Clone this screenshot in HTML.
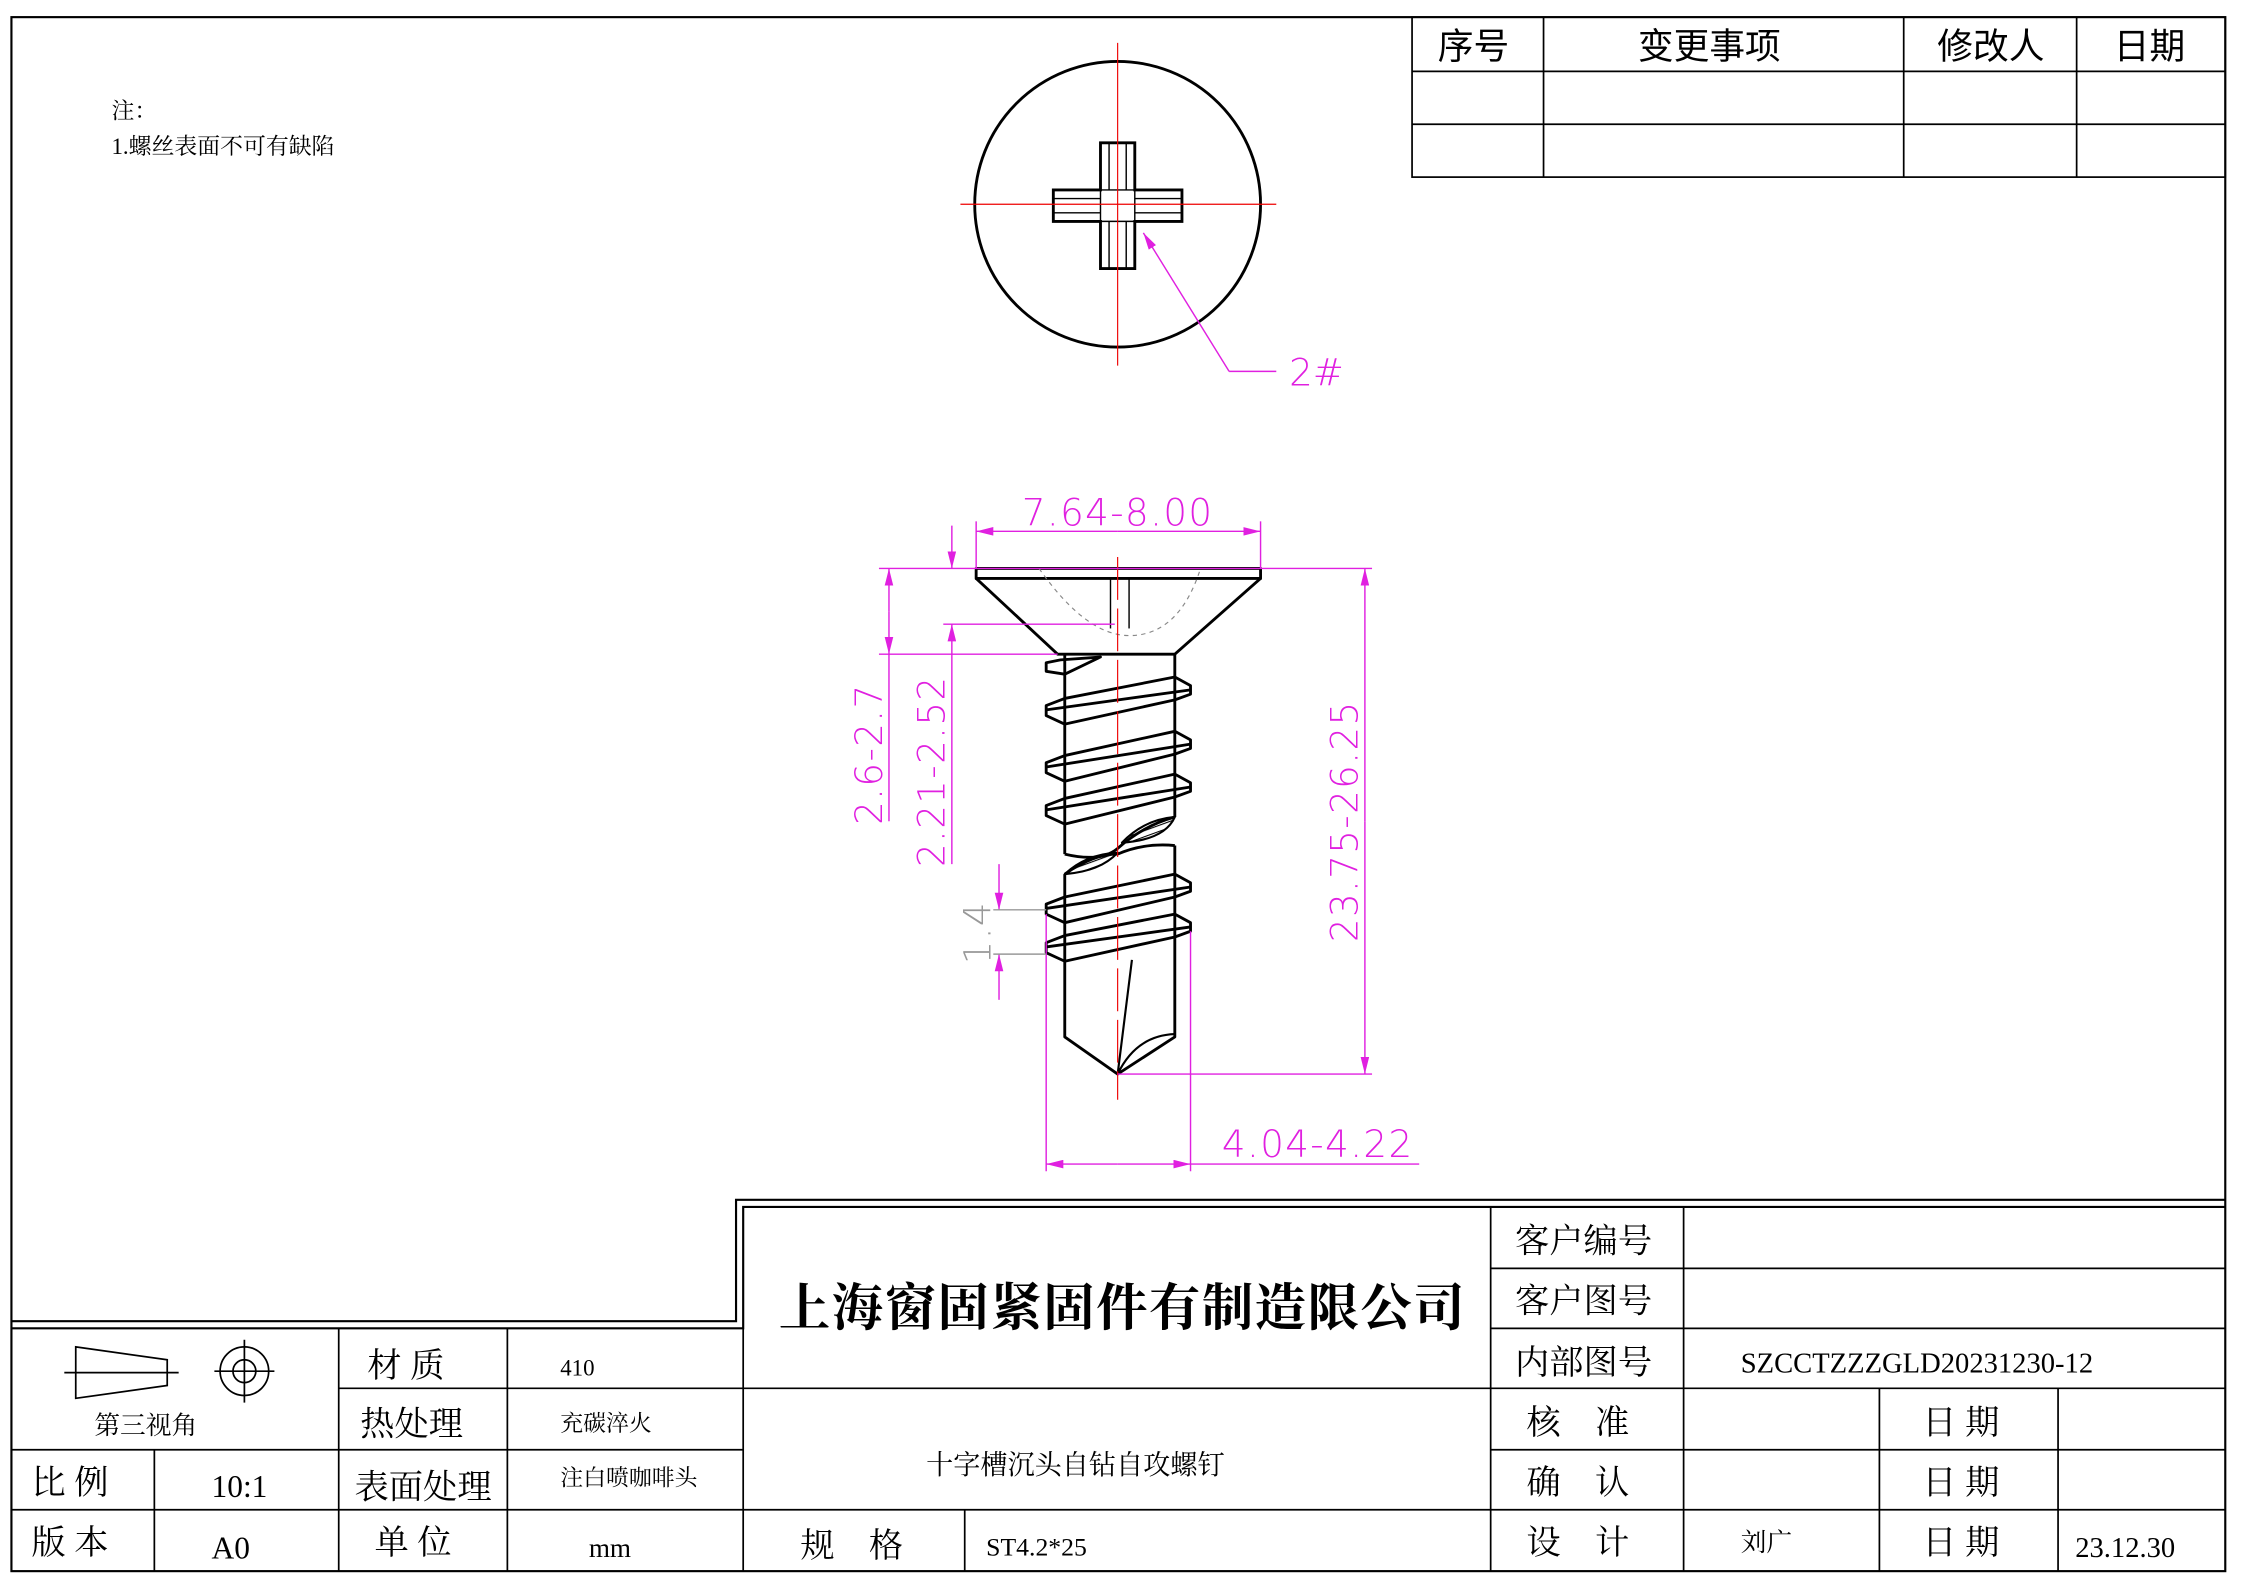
<!DOCTYPE html>
<html><head><meta charset="utf-8"><style>
html,body{margin:0;padding:0;background:#fff;}
svg{display:block;}
.s{font-family:"Liberation Serif","Noto Serif CJK SC",serif;fill:#000;}
.m{font-family:"DejaVu Sans","Liberation Sans",sans-serif;fill:#e020e0;font-weight:200;}
</style></head><body>
<svg width="2241" height="1584" viewBox="0 0 1568 1109" preserveAspectRatio="none" xmlns="http://www.w3.org/2000/svg">
<defs>
<pattern id="h" width="4" height="4" patternUnits="userSpaceOnUse" patternTransform="rotate(70)"><line x1="0" y1="0" x2="0" y2="4" stroke="#000" stroke-width="1.5"/></pattern>
<marker id="a" markerWidth="12" markerHeight="6" refX="12" refY="3" orient="auto" markerUnits="userSpaceOnUse"><path d="M0,0 L12,3 L0,6 Z" fill="#e020e0"/></marker>
</defs>
<rect width="1568" height="1109" fill="#fff"/>
<rect x="8" y="12" width="1549" height="1088" fill="none" stroke="#000" stroke-width="1.5"/>
<polyline points="8,925 515,925 515,840 1557,840" fill="none" stroke="#000" stroke-width="1.5"/>
<polyline points="8,930 520,930 520,845 1557,845" fill="none" stroke="#000" stroke-width="1.5"/>
<g stroke="#000" stroke-width="1.2" fill="none">
<rect x="988" y="12" width="569" height="112"/>
<line x1="988" y1="50" x2="1557" y2="50"/><line x1="988" y1="87" x2="1557" y2="87"/>
<line x1="1080" y1="12" x2="1080" y2="124"/><line x1="1332" y1="12" x2="1332" y2="124"/><line x1="1453" y1="12" x2="1453" y2="124"/>
</g>
<g class="s" font-size="25" text-anchor="middle" style="font-family:'Noto Sans CJK SC',sans-serif">
<text x="1031" y="41">序号</text><text x="1196" y="41">变更事项</text><text x="1393" y="41">修改人</text><text x="1504" y="41">日期</text>
</g>
<text class="s" x="78" y="83" font-size="16">注：</text>
<text class="s" x="78" y="108" font-size="16">1.螺丝表面不可有缺陷</text>
<circle cx="782" cy="143" r="100" fill="none" stroke="#000" stroke-width="2"/>
<path d="M770,100 L794,100 L794,133 L827,133 L827,155 L794,155 L794,188 L770,188 L770,155 L737,155 L737,133 L770,133 Z" fill="none" stroke="#000" stroke-width="2"/>
<path d="M770,133 L794,133 L794,155 L770,155 Z M776,100 L776,133 M788,100 L788,133 M776,155 L776,188 M788,155 L788,188 M737,139 L770,139 M737,149 L770,149 M794,139 L827,139 M794,149 L827,149" fill="none" stroke="#000" stroke-width="1"/>
<line x1="672" y1="143" x2="893" y2="143" stroke="#e00" stroke-width="0.8"/>
<line x1="782" y1="30" x2="782" y2="256" stroke="#e00" stroke-width="0.8"/>
<line x1="860" y1="260" x2="800" y2="163" stroke="#e020e0" stroke-width="1" marker-end="url(#a)"/>
<line x1="860" y1="260" x2="893" y2="260" stroke="#e020e0" stroke-width="1"/>
<text class="m" x="902" y="270" font-size="26">2#</text>
<g stroke="#000" stroke-width="2" fill="none" stroke-linejoin="round">
<rect x="683" y="398" width="199" height="7"/>
<path d="M683,405 L740,458 L822,458 L882,405"/>
<path d="M745,458 L745,598 M822,458 L822,572 M745,612 L745,726 L782,752 L822,726 L822,592"/>
<path d="M742,462 L770,460 L745,472 L732,470 L732,464 Z"/>
<path d="M745,489 L822,474 L833,480 L833,486 L822,490 L745,507 L732,501 L732,494 Z M732,497 L833,483"/>
<path d="M745,529 L822,512 L833,518 L833,524 L822,528 L745,547 L732,541 L732,534 Z M732,537 L833,521"/>
<path d="M745,559 L822,542 L833,548 L833,554 L822,558 L745,577 L732,571 L732,564 Z M732,567 L833,551"/>
<path d="M745,628 L822,612 L833,618 L833,624 L822,628 L745,646 L732,640 L732,633 Z M732,636 L833,621"/>
<path d="M745,655 L822,640 L833,646 L833,652 L822,656 L745,673 L732,667 L732,660 Z M732,663 L833,649"/>
<path d="M745,598 Q770,604 782,594 Q800,578 822,572" />
<path d="M745,612 Q765,598 782,598 Q800,590 822,592" />
<path d="M785,590 Q800,574 822,572 Q815,588 785,590 Z" fill="url(#h)" stroke-width="1.5"/>
<path d="M745,612 Q760,598 782,597 Q770,610 745,612 Z" fill="url(#h)" stroke-width="1.5"/>
<path d="M792,672 L782,752 M782,752 Q795,725 822,724" stroke-width="1.5"/>
</g>
<path d="M727,398 Q760,445 790,445 Q825,445 840,398" fill="none" stroke="#888" stroke-width="0.8" stroke-dasharray="3,3"/>
<line x1="777" y1="405" x2="777" y2="440" stroke="#000" stroke-width="1"/>
<line x1="790" y1="405" x2="790" y2="440" stroke="#000" stroke-width="1"/>
<line x1="782" y1="390" x2="782" y2="770" stroke="#e00" stroke-width="0.8" stroke-dasharray="30,6"/>
<g stroke="#e020e0" stroke-width="1" fill="none">
<line x1="683" y1="365" x2="683" y2="398"/><line x1="882" y1="365" x2="882" y2="398"/>
<line x1="782" y1="372" x2="882" y2="372" marker-end="url(#a)"/>
<line x1="782" y1="372" x2="683" y2="372" marker-end="url(#a)"/>
<line x1="615" y1="398" x2="960" y2="398"/>
<line x1="660" y1="437" x2="780" y2="437"/>
<line x1="615" y1="458" x2="740" y2="458"/>
<line x1="622" y1="428" x2="622" y2="398" marker-end="url(#a)"/>
<line x1="622" y1="428" x2="622" y2="458" marker-end="url(#a)"/>
<line x1="622" y1="458" x2="622" y2="575"/>
<line x1="666" y1="368" x2="666" y2="398" marker-end="url(#a)"/>
<line x1="666" y1="605" x2="666" y2="437" marker-end="url(#a)"/>
<line x1="955" y1="575" x2="955" y2="398" marker-end="url(#a)"/>
<line x1="955" y1="575" x2="955" y2="752" marker-end="url(#a)"/>
<line x1="782" y1="752" x2="960" y2="752"/>
<line x1="732" y1="640" x2="732" y2="820"/><line x1="833" y1="652" x2="833" y2="820"/>
<line x1="782" y1="815" x2="732" y2="815" marker-end="url(#a)"/>
<line x1="782" y1="815" x2="833" y2="815" marker-end="url(#a)"/>
<line x1="833" y1="815" x2="993" y2="815"/>
<line x1="699" y1="605" x2="699" y2="637" marker-end="url(#a)"/>
<line x1="699" y1="700" x2="699" y2="668" marker-end="url(#a)"/>
<line x1="695" y1="637" x2="732" y2="637" stroke="#999"/><line x1="695" y1="668" x2="732" y2="668" stroke="#999"/>
</g>
<g class="m" font-size="26" letter-spacing="1">
<text x="782" y="368" text-anchor="middle">7.64-8.00</text>
<text x="922" y="810" text-anchor="middle">4.04-4.22</text>
<text transform="translate(617,528) rotate(-90)" text-anchor="middle">2.6-2.7</text>
<text transform="translate(661,540) rotate(-90)" text-anchor="middle">2.21-2.52</text>
<text transform="translate(950,575) rotate(-90)" text-anchor="middle">23.75-26.25</text>
<text transform="translate(693,653) rotate(-90)" text-anchor="middle" style="fill:#999">1.4</text>
</g>
<g stroke="#000" stroke-width="1.2" fill="none">
<line x1="8" y1="1015" x2="520" y2="1015"/><line x1="8" y1="1057" x2="1557" y2="1057"/>
<line x1="237" y1="972" x2="520" y2="972"/>
<line x1="237" y1="930" x2="237" y2="1100"/><line x1="108" y1="1015" x2="108" y2="1100"/>
<line x1="355" y1="930" x2="355" y2="1100"/><line x1="520" y1="930" x2="520" y2="1100"/>
<line x1="520" y1="972" x2="1557" y2="972"/><line x1="675" y1="1057" x2="675" y2="1100"/>
<line x1="1043" y1="845" x2="1043" y2="1100"/><line x1="1178" y1="845" x2="1178" y2="1100"/>
<line x1="1043" y1="888" x2="1557" y2="888"/><line x1="1043" y1="930" x2="1557" y2="930"/>
<line x1="1043" y1="1015" x2="1557" y2="1015"/>
<line x1="1315" y1="972" x2="1315" y2="1100"/><line x1="1440" y1="972" x2="1440" y2="1100"/>
<path d="M53,943 L117,952 L117,970 L53,979 Z"/><line x1="45" y1="961" x2="125" y2="961"/>
<circle cx="171" cy="960" r="17"/><circle cx="171" cy="960" r="8"/>
<line x1="150" y1="960" x2="192" y2="960"/><line x1="171" y1="938" x2="171" y2="982"/>
</g>
<g class="s" font-size="24">
<text x="545" y="928" font-size="36" font-weight="bold" letter-spacing="1">上海窗固紧固件有制造限公司</text>
<text x="66" y="1004" font-size="18">第三视角</text>
<text x="257" y="964">材 质</text><text x="392" y="963" font-size="16">410</text>
<text x="252" y="1005">热处理</text><text x="392" y="1002" font-size="16">充碳淬火</text>
<text x="248" y="1049">表面处理</text><text x="392" y="1040" font-size="16">注白喷咖啡头</text>
<text x="22" y="1046">比 例</text><text x="148" y="1048" font-size="22">10:1</text>
<text x="22" y="1088">版 本</text><text x="148" y="1091" font-size="22">A0</text>
<text x="262" y="1088">单 位</text><text x="412" y="1090" font-size="19">mm</text>
<text x="560" y="1090">规　格</text><text x="690" y="1089" font-size="18">ST4.2*25</text>
<text x="648" y="1032" font-size="19">十字槽沉头自钻自攻螺钉</text>
<text x="1060" y="877">客户编号</text><text x="1060" y="919">客户图号</text><text x="1060" y="962">内部图号</text>
<text x="1218" y="961" font-size="20">SZCCTZZZGLD20231230-12</text>
<text x="1068" y="1004">核　准</text><text x="1068" y="1046">确　认</text><text x="1068" y="1088">设　计</text>
<text x="1345" y="1004">日 期</text><text x="1345" y="1046">日 期</text><text x="1345" y="1088">日 期</text>
<text x="1218" y="1086" font-size="18">刘广</text><text x="1452" y="1090" font-size="20">23.12.30</text>
</g>
</svg>
</body></html>
